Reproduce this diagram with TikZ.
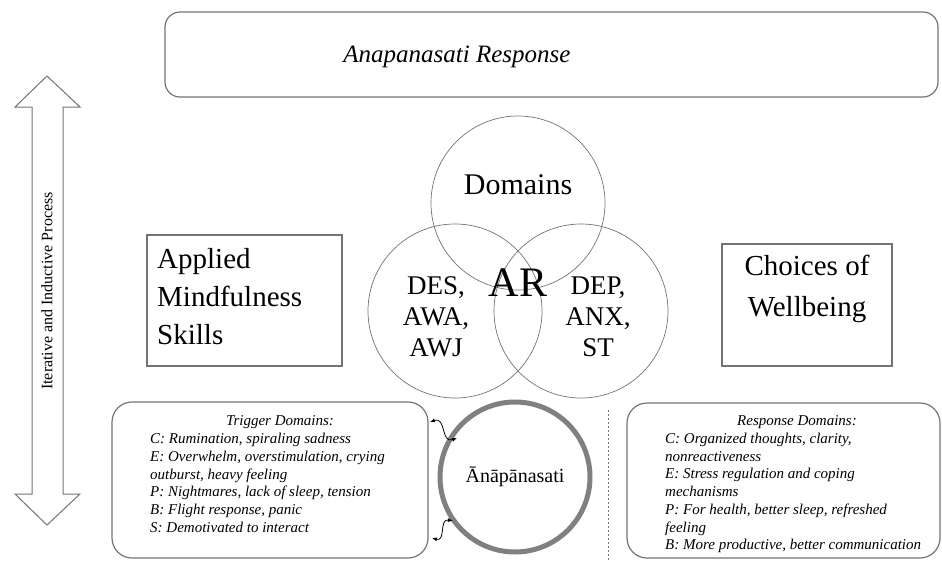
\documentclass[tikz,border=0pt]{standalone}
\usepackage{fontspec}
\usetikzlibrary{arrows.meta}
\setmainfont{Liberation Serif}
\begin{document}
\begin{tikzpicture}[>={Latex[length=5pt,width=4pt]},x=1pt,y=-1pt,
  box/.style={draw=linegray,line width=1.2pt,inner sep=0pt},
  venn/.style={draw=linegray,line width=0.7pt},
  big/.style={font=\fontsize{29}{38}\selectfont,inner sep=0pt},
  small/.style={font=\fontsize{15}{17.7}\selectfont\itshape,inner sep=0pt}]
\definecolor{linegray}{rgb}{0.45,0.45,0.45}
\definecolor{ringgray}{rgb}{0.5,0.5,0.5}
\useasboundingbox (0,0) rectangle (942,563);
\node[box,rounded corners=15,minimum width=773,minimum height=85] (response) at (551.5,54.5) {};
\node[font=\fontsize{25}{30}\selectfont\itshape,inner sep=0pt] (title) at (457,57) {Anapanasati Response};
\draw[linegray,line width=1pt] (47,76) -- (15,107) -- (32,107) -- (32,494) -- (15,494) -- (47,525)
  -- (80,494) -- (63,494) -- (63,107) -- (80,107) -- cycle;
\node[rotate=90,font=\fontsize{16}{18}\selectfont,inner sep=0pt] (process) at (47,291) {Iterative and Inductive Process};
\node[box,minimum width=195,minimum height=131] (skills) at (244.5,300.5) {};
\node[big,align=left,anchor=west] (skillstext) at (157,297) {Applied\\Mindfulness\\Skills};
\node[box,minimum width=170,minimum height=122] (choices) at (807,305) {};
\node[font=\fontsize{29}{41}\selectfont,inner sep=0pt,align=center] (choicestext) at (807,289) {Choices of\\Wellbeing};
\draw[venn] (518,203) circle (87);
\draw[venn] (455,311) circle (87);
\draw[venn] (581,311) circle (87);
\node[font=\fontsize{30}{36}\selectfont,inner sep=0pt] (domains) at (518,185) {Domains};
\node[font=\fontsize{42}{48}\selectfont,inner sep=0pt] (ar) at (518,283) {AR};
\node[font=\fontsize{27}{31}\selectfont,inner sep=0pt,align=center] (left) at (436,317) {DES,\\AWA,\\AWJ};
\node[font=\fontsize{27}{31}\selectfont,inner sep=0pt,align=center] (right) at (598,317) {DEP,\\ANX,\\ST};
\node[box,rounded corners=20,minimum width=316,minimum height=156] (trigger) at (270,480) {};
\node[small] (triggertitle) at (280,422) {Trigger Domains:};
\node[small,align=left,anchor=west] (triggertext) at (150,483) {C: Rumination, spiraling sadness\\E: Overwhelm, overstimulation, crying\\outburst, heavy feeling\\P: Nightmares, lack of sleep, tension\\B: Flight response, panic\\S: Demotivated to interact};
\node[circle,draw=ringgray,line width=5pt,minimum size=150,font=\fontsize{20}{24}\selectfont] (ana) at (515,477) {Ānāpānasati};
\node[box,rounded corners=20,minimum width=313,minimum height=155] (resp) at (783.5,480.5) {};
\node[small] (resptitle) at (797,422) {Response Domains:};
\node[small,align=left,anchor=west] (resptext) at (665,493) {C: Organized thoughts, clarity,\\nonreactiveness\\E: Stress regulation and coping\\mechanisms\\P: For health, better sleep, refreshed\\feeling\\B: More productive, better communication};
\coordinate (t1) at (430,422);
\coordinate (t2) at (457,438);
\coordinate (b1) at (432,538);
\coordinate (b2) at (453,521);
\draw[<->,line width=0.8pt] (t1) .. controls (446,416) and (441,444) .. (t2);
\draw[<->,line width=0.8pt] (b1) .. controls (446,542) and (439,518) .. (b2);
\coordinate (d1) at (608,410);
\coordinate (d2) at (608,560);
\draw[linegray,line width=0.8pt,dash pattern=on 2pt off 2pt] (d1) -- (d2);
\end{tikzpicture}
\end{document}
